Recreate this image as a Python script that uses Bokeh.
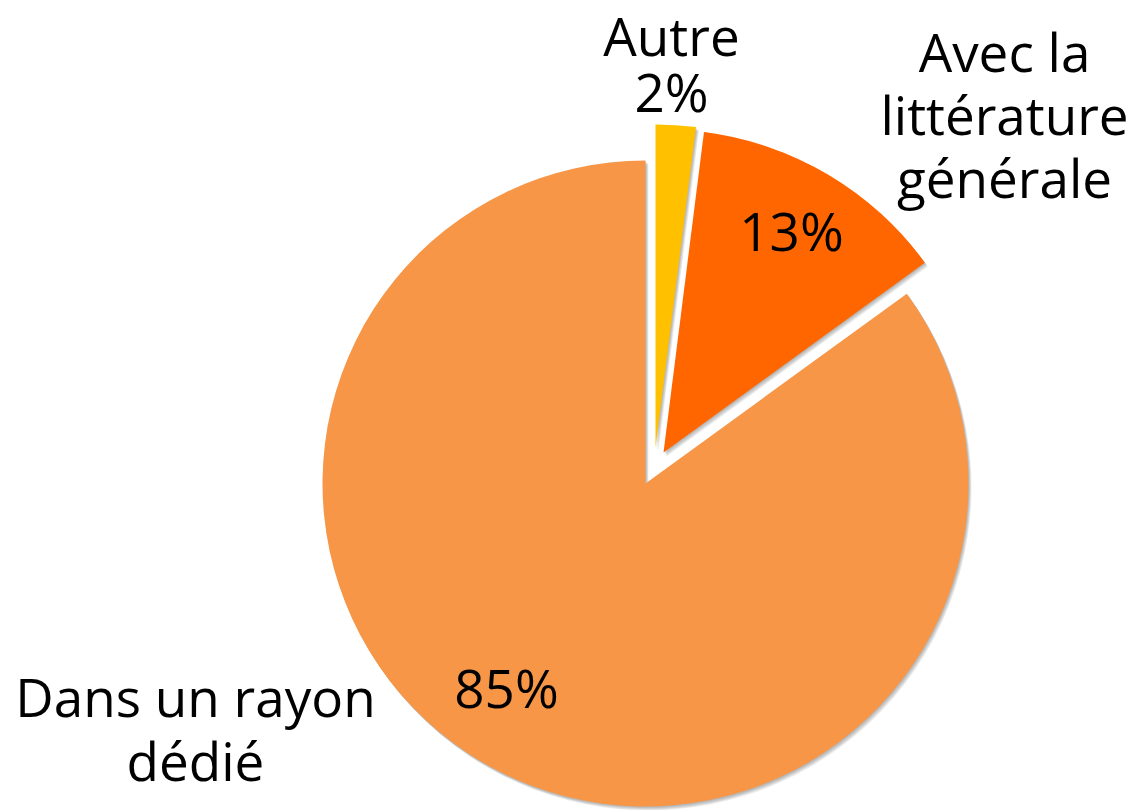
import math
from bokeh.plotting import figure
from bokeh.models import Range1d, ColumnDataSource
from bokeh.core.properties import value
from bokeh.embed import file_html
from bokeh.resources import INLINE

# ---------------- data ----------------
categories = ["Autre", "Avec la\nlittérature\ngénérale", "Dans un rayon\ndédié"]
shares = [2, 13, 85]
pct_labels = ["2%", "13%", "85%"]

# ---------------- style ----------------
W, H = 1134, 810
colors = ["#FFC000", "#FF6600", "#F79646"]
CX, CY_PX = 645, 483         # pie centre (screen px)
R = 323
explode = [(10, 36), (18, 31), (0, 0)]   # px offsets (right, up)
FONT = "Open Sans"
FSIZE = "53px"
TEXT_DY = 22                 # compensation of rendered baseline offset (px)
# outside category labels: x centre, first baseline (px), line spacing
label_pos = [(671, 57, 56), (1004, 73, 63), (195, 718, 64)]
# percentage labels inside slices (x, baseline px); None = appended to outside label
pct_pos = [None, (791, 252), (506, 709)]


def ydata(px):
    return H - px


p = figure(width=W, height=H, output_backend="svg", toolbar_location=None,
           x_range=Range1d(0, W), y_range=Range1d(0, H), min_border=0)
p.axis.visible = False
p.grid.visible = False
p.outline_line_color = None
p.background_fill_color = "white"
p.border_fill_color = "white"

total = float(sum(shares))
cum = 0.0
xs, ys, starts, ends = [], [], [], []
for s, (dx, dy) in zip(shares, explode):
    a0 = 2 * math.pi * cum / total
    cum += s
    a1 = 2 * math.pi * cum / total
    starts.append(math.pi / 2 - a1)
    ends.append(math.pi / 2 - a0)
    xs.append(CX + dx)
    ys.append(ydata(CY_PX) + dy)

src = ColumnDataSource(dict(x=xs, y=ys, start=starts, end=ends, color=colors))

# soft shadow (down-right)
for k in range(1, 6):
    sh = ColumnDataSource(dict(x=[x + 0.6 * k for x in xs], y=[y - 0.8 * k for y in ys],
                               start=starts, end=ends))
    p.wedge(x="x", y="y", radius=R, start_angle="start", end_angle="end",
            source=sh, fill_color="#404040", fill_alpha=0.09, line_color=None)

p.wedge(x="x", y="y", radius=R, start_angle="start", end_angle="end",
        source=src, fill_color="color", line_color=None)

# labels
tx, ty, tt = [], [], []
for i, cat in enumerate(categories):
    lines = cat.split("\n")
    if pct_pos[i] is None:
        lines.append(pct_labels[i])
    x0, b0, sp = label_pos[i]
    for j, ln in enumerate(lines):
        tx.append(x0)
        ty.append(ydata(b0 + j * sp - TEXT_DY))
        tt.append(ln)
    if pct_pos[i] is not None:
        tx.append(pct_pos[i][0])
        ty.append(ydata(pct_pos[i][1] - TEXT_DY))
        tt.append(pct_labels[i])

p.text(x=tx, y=ty, text=tt, text_align="center", text_baseline="alphabetic",
       text_font=value(FONT), text_font_size=FSIZE, text_color="black")

open("out.html", "w").write(file_html(p, INLINE))
